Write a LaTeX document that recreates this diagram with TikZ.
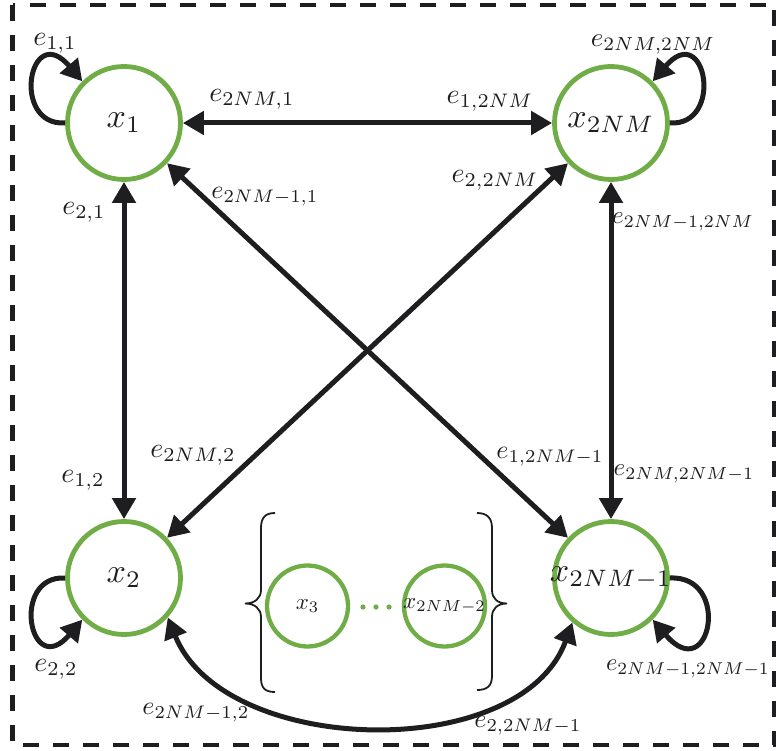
\documentclass[tikz,border=0pt]{standalone}
\usepackage{graphicx}
\usetikzlibrary{arrows.meta}
\definecolor{ink}{RGB}{30,30,32}
\definecolor{grn}{RGB}{112,173,71}
\newcommand\bigtxt[1]{\makebox[0pt]{\scalebox{3.4}{$#1$}}}
\newcommand\smalltxt[1]{\makebox[0pt]{\scalebox{2.3}{$#1$}}}
\newcommand\edgetxt[2][2.8]{\scalebox{#1}{$#2$}}
\begin{document}
\begin{tikzpicture}[x=1pt,y=1pt,
  big/.style={circle,draw=grn,line width=4.8pt,minimum size=113pt,inner sep=0pt,text=ink},
  small/.style={circle,draw=grn,line width=4.3pt,minimum size=81pt,inner sep=0pt,text=ink},
  lab/.style={inner sep=0pt,text=ink},
  edge/.style={draw=ink,line width=5pt,{Triangle[length=21pt,width=23pt]}-{Triangle[length=21pt,width=23pt]}},
  loopedge/.style={draw=ink,line width=5pt,-{Triangle[length=21pt,width=23pt]}},
  frame/.style={draw=ink,line width=4.5pt,dash pattern=on 16pt off 14pt},
  bracestyle/.style={draw=ink,line width=1.8pt}]
\useasboundingbox (0,0) rectangle (776,-751);
\draw[frame] (12.5,-5) rectangle (774,-745);

% main nodes
\node[big] (x1)   at (124,-123) {\bigtxt{x_1}};
\node[big] (x2nm) at (611,-123) {\bigtxt{x_{2NM}}};
\node[big] (x2)   at (124,-578) {\bigtxt{x_2}};
\node[big] (x2n1) at (611,-578) {\bigtxt{x_{2NM-1}}};

% inner nodes
\node[small] (x3)   at (307.5,-606) {\smalltxt{x_3}};
\node[small] (x2n2) at (444.5,-606) {\smalltxt{x_{2NM-2}}};
\fill[grn] (363,-607) circle (2.6pt) (376,-607) circle (2.6pt) (389,-607) circle (2.6pt);

% braces
\draw[bracestyle] (275,-513) .. controls (265,-513) and (261,-518) .. (261,-528) -- (261,-590)
  .. controls (261,-598) and (255,-603.5) .. (245,-603.5)
  .. controls (255,-603.5) and (261,-609) .. (261,-617) -- (261,-678)
  .. controls (261,-688) and (265,-692) .. (275,-692);
\draw[bracestyle] (477,-513) .. controls (487,-513) and (492,-518) .. (492,-528) -- (492,-590)
  .. controls (492,-598) and (497,-603.5) .. (507,-603.5)
  .. controls (497,-603.5) and (492,-609) .. (492,-617) -- (492,-676)
  .. controls (492,-686) and (487,-690) .. (477,-690);

% straight edges
\draw[edge] (x1) -- (x2nm);
\draw[edge] (x1) -- (x2);
\draw[edge] (x2nm) -- (x2n1);
\draw[edge] (x1) -- (x2n1);
\draw[edge] (x2nm) -- (x2);
\draw[edge] (x2.-42) to[out=-68,in=-110,looseness=0.95] (x2n1.-131);

% self loops
\draw[loopedge] (x1.180) .. controls +(-55,-3) and +(-53,62) .. (x1.135);
\draw[loopedge] (x2nm.0) .. controls +(55,-3) and +(53,62) .. (x2nm.45);
\draw[loopedge] (x2.180) .. controls +(-55,3) and +(-53,-62) .. (x2.225);
\draw[loopedge] (x2n1.0) .. controls +(62,3) and +(58,-68) .. (x2n1.315);

% labels
\node[lab] (l11)   at (55,-43)   {\edgetxt{e_{1,1}}};
\node[lab] (lN1)   at (252,-99)  {\edgetxt{e_{2NM,1}}};
\node[lab] (l1N)   at (490,-101) {\edgetxt{e_{1,2NM}}};
\node[lab] (lNN)   at (653,-45)  {\edgetxt[2.7]{e_{2NM,2NM}}};
\node[lab] (lM1)   at (265,-197) {\edgetxt[2.6]{e_{2NM-1,1}}};
\node[lab] (l2N)   at (495,-180) {\edgetxt{e_{2,2NM}}};
\node[lab] (l21)   at (84,-212)  {\edgetxt{e_{2,1}}};
\node[lab] (lMN)   at (683,-222) {\edgetxt[2.5]{e_{2NM-1,2NM}}};
\node[lab] (lN2)   at (193,-455) {\edgetxt{e_{2NM,2}}};
\node[lab] (l12)   at (83,-480)  {\edgetxt{e_{1,2}}};
\node[lab] (l1M)   at (550,-457) {\edgetxt[2.6]{e_{1,2NM-1}}};
\node[lab] (lNM)   at (684,-474) {\edgetxt[2.5]{e_{2NM,2NM-1}}};
\node[lab] (l22)   at (56,-669)  {\edgetxt{e_{2,2}}};
\node[lab] (lMM)   at (688,-669) {\edgetxt[2.45]{e_{2NM-1,2NM-1}}};
\node[lab] (lM2)   at (196,-713) {\edgetxt[2.6]{e_{2NM-1,2}}};
\node[lab] (l2M)   at (528,-726) {\edgetxt[2.6]{e_{2,2NM-1}}};
\end{tikzpicture}
\end{document}
